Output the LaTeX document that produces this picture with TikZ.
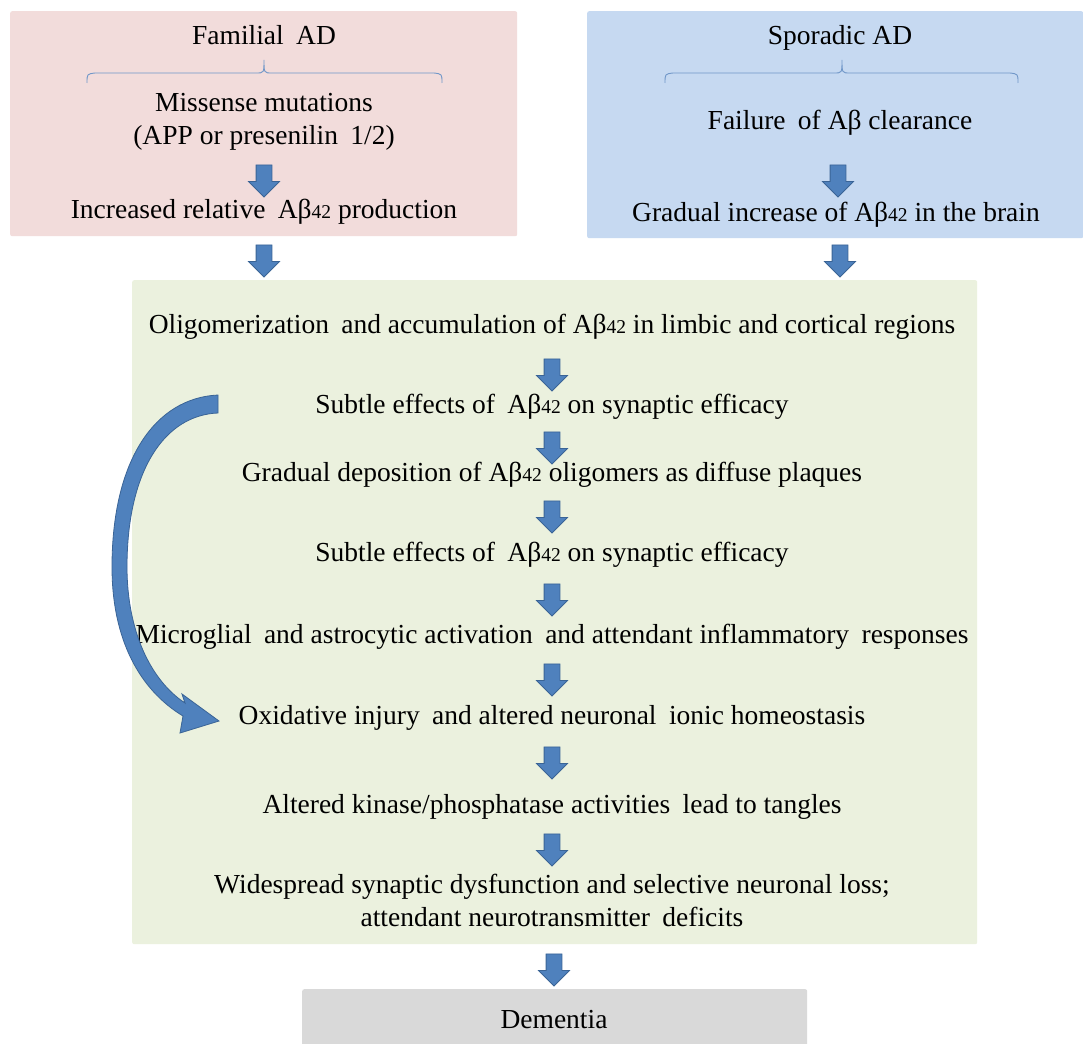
\documentclass[tikz,border=0pt]{standalone}
\usepackage{fontspec}
\setmainfont{Liberation Serif}
\usetikzlibrary{shapes.arrows}
\definecolor{pinkc}{HTML}{F2DCDB}
\definecolor{bluec}{HTML}{C6D9F1}
\definecolor{greenc}{HTML}{EBF1DE}
\definecolor{grayc}{HTML}{D9D9D9}
\definecolor{arrfill}{HTML}{4F81BD}
\definecolor{arrdraw}{HTML}{3A6496}
\definecolor{bracec}{HTML}{6F96C8}
\newcommand{\abff}{Aβ{\fontsize{19.5}{19.5}\selectfont 42}}
\newcommand{\wsp}{\hspace{0.45em}}
\begin{document}
\begin{tikzpicture}[x=1pt,y=-1pt,
  box/.style={draw=none,rounded corners=2pt,anchor=north west,inner sep=0pt},
  txt/.style={anchor=base,inner sep=0pt,align=center,font=\fontsize{27.5}{33}\selectfont},
  darrow/.style={single arrow,shape border rotate=270,fill=arrfill,draw=arrdraw,line width=0.8pt,
    minimum height=32pt,minimum width=30pt,inner sep=7.5pt,single arrow head extend=7.5pt,
    single arrow tip angle=90},
  bracel/.style={draw=bracec,line width=0.9pt}]
\useasboundingbox (0,0) rectangle (1083,1043);
\fill[white] (0,0) rectangle (1083,1043);
% boxes
\node[box,fill=pinkc,minimum width=507pt,minimum height=225pt] (fam) at (10,11) {};
\node[box,fill=bluec,minimum width=496pt,minimum height=227pt] (spo) at (587,11) {};
\node[box,fill=greenc,minimum width=845pt,minimum height=664pt] (grn) at (132,280) {};
\node[box,fill=grayc,minimum width=505pt,minimum height=60pt] (dem) at (302,989) {};
% familial
\node[txt] (famt) at (264,45) {Familial\wsp AD};
\draw[bracel] (87,83) .. controls (87,74) .. (95,73) -- (256,73) .. controls (264,73) .. (264,60)
  .. controls (264,73) .. (272,73) -- (434,73) .. controls (442,74) .. (442,83);
\node[txt] (miss) at (264,145) {Missense mutations\\(APP or presenilin\wsp 1/2)};
\node[txt] (incr) at (264,218) {Increased relative\wsp \abff\ production};
\node[darrow] (a1) at (264,177) {};
% sporadic
\node[txt] (spot) at (840,45) {Sporadic AD};
\draw[bracel] (665,83) .. controls (665,74) .. (673,73) -- (834,73) .. controls (842,73) .. (842,60)
  .. controls (842,73) .. (850,73) -- (1010,73) .. controls (1018,74) .. (1018,83);
\node[txt] (fail) at (840,130) {Failure\wsp of Aβ clearance};
\node[darrow] (a2) at (838,177) {};
\node[txt] (grad) at (836,221) {Gradual increase of \abff\ in the brain};
% between boxes
\node[darrow] (a3) at (264,257) {};
\node[darrow] (a4) at (840,257) {};
% green texts
\node[txt] (g1) at (552,333) {Oligomerization\wsp and accumulation of \abff\ in limbic and cortical regions};
\node[darrow] (b1) at (552,371) {};
\node[txt] (g2) at (552,413) {Subtle effects of\wsp \abff\ on synaptic efficacy};
\node[darrow] (b2) at (552,444) {};
\node[txt] (g3) at (552,481) {Gradual deposition of \abff\ oligomers as diffuse plaques};
\node[darrow] (b3) at (552,513) {};
\node[txt] (g4) at (552,561) {Subtle effects of\wsp \abff\ on synaptic efficacy};
\node[darrow] (b4) at (552,596) {};
\node[txt] (g5) at (552,643) {Microglial\wsp and astrocytic activation\wsp and attendant inflammatory\wsp responses};
\node[darrow] (b5) at (552,676) {};
\node[txt] (g6) at (552,724) {Oxidative injury\wsp and altered neuronal\wsp ionic homeostasis};
\node[darrow] (b6) at (552,759) {};
\node[txt] (g7) at (552,813) {Altered kinase/phosphatase activities\wsp lead to tangles};
\node[darrow] (b7) at (552,846) {};
\node[txt] (g8) at (552,926) {Widespread synaptic dysfunction and selective neuronal loss;\\attendant neurotransmitter\wsp deficits};
\node[darrow] (b8) at (554,966) {};
\node[txt] (demt) at (554,1028) {Dementia};
% curved arrow
\coordinate (ctail) at (218,404);
\coordinate (ctip) at (219,721);
\filldraw[fill=arrfill,draw=arrdraw,line width=0.8pt]
  (218,395) -- (218,413)
  .. controls (165,415) and (127,470) .. (127,567)
  .. controls (127,630) and (150,680) .. (185,703)
  -- (182,694) -- (ctip) -- (180,733) -- (183,716)
  .. controls (140,690) and (112,640) .. (112,567)
  .. controls (112,460) and (155,398) .. (218,395) -- cycle;
\end{tikzpicture}
\end{document}
